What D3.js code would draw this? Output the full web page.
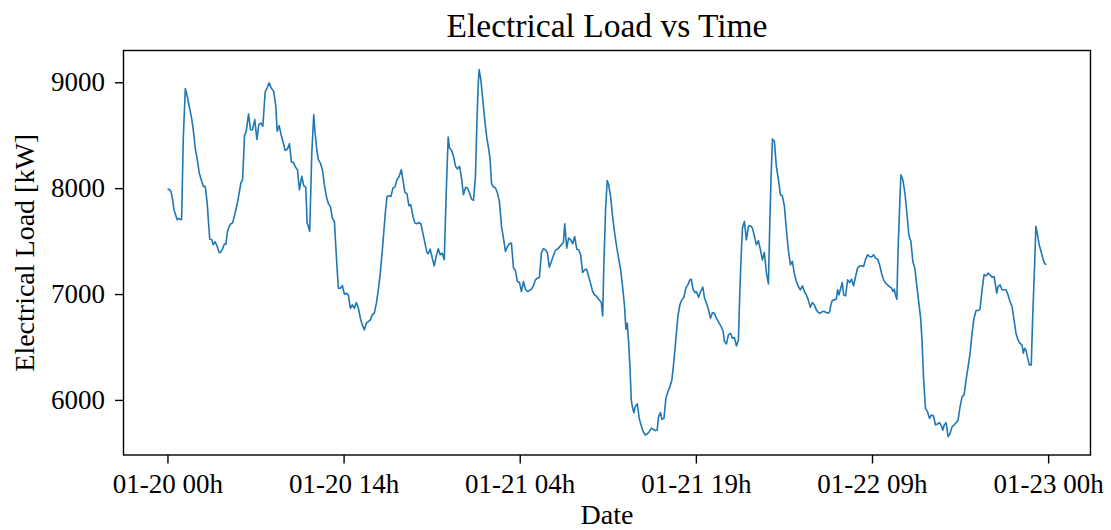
<!DOCTYPE html>
<html>
<head>
<meta charset="utf-8">
<script src="https://cdn.jsdelivr.net/npm/d3@7"></script>
<style>
  html, body { margin: 0; padding: 0; background: #fff; }
  svg { display: block; }
  text { font-family: "Liberation Serif", "Times New Roman", serif; fill: #000; }
</style>
</head>
<body>
<svg id="chart" width="1111" height="530"></svg>
<script>
// ---- data (hours after 01-20 00h, electrical load in kW) ----
const hoursFromStart = [
  0.00,0.15,0.29,0.42,0.53,0.69,0.80,0.94,1.07,1.16,1.29,1.46,1.62,1.78,1.97,2.11,2.27,2.44,2.60,2.76,
  2.93,3.09,3.25,3.36,3.46,3.63,3.74,3.90,4.07,4.23,4.34,4.50,4.64,4.78,4.91,5.05,5.18,5.32,5.43,5.59,
  5.73,5.86,6.00,6.14,6.24,6.30,6.44,6.63,6.79,6.95,7.14,7.31,7.47,7.63,7.80,7.99,8.15,8.31,8.48,
  8.69,8.86,8.97,9.13,9.29,9.46,9.62,9.81,9.97,10.14,10.30,10.46,10.63,10.79,10.98,11.14,11.31,11.42,11.52,11.63,
  11.80,11.96,12.07,12.21,12.34,12.50,12.67,12.83,12.99,13.16,13.32,13.48,13.65,13.81,13.97,14.14,14.30,14.46,14.63,14.79,
  14.95,15.12,15.28,15.44,15.61,15.77,15.93,16.10,16.26,16.42,16.59,16.75,16.91,17.08,17.24,17.40,17.57,
  17.67,17.81,17.95,18.11,18.27,18.44,18.60,18.76,18.92,19.12,19.25,19.41,19.58,19.74,19.90,20.07,20.23,20.39,20.56,20.72,
  20.88,21.05,21.21,21.32,21.48,21.65,21.81,21.97,22.14,22.30,22.46,22.63,22.79,22.95,23.06,23.22,23.39,23.55,23.71,23.88,
  24.04,24.20,24.37,24.53,24.69,24.86,25.02,25.18,25.29,25.40,25.48,25.62,25.78,25.95,26.11,26.27,26.38,26.49,26.65,26.82,
  26.98,27.14,27.31,27.47,27.63,27.80,27.96,28.12,28.29,28.45,28.61,28.78,28.94,29.10,29.27,29.43,29.59,29.75,29.92,30.08,
  30.24,30.41,30.57,30.73,30.90,31.06,31.22,31.39,31.55,31.71,31.88,32.04,32.20,32.37,32.48,32.64,32.80,32.97,33.13,33.29,
  33.46,33.62,33.78,33.94,34.11,34.27,34.43,34.60,34.76,34.92,35.09,35.25,35.36,35.47,35.58,35.69,35.82,
  35.95,36.07,36.23,36.39,36.56,36.72,36.88,37.05,37.21,37.37,37.48,37.59,37.70,37.81,37.92,38.03,38.14,38.24,38.41,38.57,
  38.74,38.90,39.06,39.22,39.39,39.55,39.71,39.88,40.04,40.15,40.31,40.42,40.59,40.75,40.91,41.08,41.24,41.40,41.56,41.73,
  41.89,42.05,42.22,42.38,42.54,42.71,42.82,42.98,43.14,43.25,43.42,43.58,43.77,43.91,44.07,44.23,44.39,44.56,44.72,44.88,45.10,
  45.27,45.43,45.54,45.70,45.86,46.03,46.19,46.35,46.52,46.68,46.79,46.90,47.01,47.17,47.33,47.50,47.66,47.82,47.99,48.15,
  48.31,48.48,48.64,48.80,48.97,49.13,49.24,49.35,49.46,49.62,49.78,49.95,50.11,50.27,50.44,50.60,50.76,50.93,51.09,51.25,
  51.42,51.58,51.74,51.91,52.07,52.23,52.39,52.56,52.72,52.88,53.05,53.21,53.37,53.54,53.70,53.86,54.03,54.14,54.24,
  54.35,54.52,54.68,54.79,54.90,55.01,55.17,55.28,55.44,55.61,55.77,55.93,56.09,56.26,56.42,56.59,56.75,56.91,57.08,57.24,
  57.40,57.57,57.73,57.89,58.06,58.22,58.38,58.55,58.71,58.87,59.03,59.20,59.31,59.42,59.52,59.63,59.74,59.85,59.96,60.12,
  60.29,60.45,60.61,60.78,60.94,61.10,61.27,61.43,61.59,61.70,61.81,61.97,62.14,62.30,62.46,62.63,62.79,62.95,63.12,63.28,63.39,
  63.50,63.66,63.82,63.99,64.15,64.31,64.48,64.64,64.80,64.97,65.13,65.29,65.46,65.62,65.78,65.94,66.11,66.27,66.43,66.60,
  66.76,66.92,67.09,67.25,67.41,67.58,67.69,67.80,67.91,68.07,68.23,68.40,68.56,68.72,68.88,69.05,69.21,69.37,69.54,69.70,
  69.86,69.97,70.08,70.19,70.30,70.46,70.62,70.73,70.89,71.00,71.11,71.27,71.44,71.60,71.71,71.87
];
const loadKW = [
  7990,7990,7969,7891,7796,7739,7702,7714,7702,7708,8458,8940,8868,8773,8663,8552,8379,8269,8143,8080,
  8017,8017,7859,7670,7519,7512,7465,7494,7449,7393,7393,7424,7471,7471,7591,7639,7664,7670,7717,7796,
  7865,7954,8048,8080,8332,8496,8537,8701,8552,8552,8647,8458,8600,8615,8584,8909,8946,8994,8946,
  8915,8773,8537,8590,8505,8433,8357,8370,8420,8244,8244,8200,8174,7985,8111,8023,8007,7670,7639,7591,
  8332,8694,8521,8363,8269,8237,8174,8032,7922,7853,7828,7717,7686,7355,7055,7055,7081,6999,7008,6992,
  6866,6898,6866,6920,6866,6772,6709,6662,6725,6740,6756,6803,6819,6914,7040,7197,7418,
  7560,7765,7922,7928,7922,8001,8010,8080,8105,8174,8080,7960,7947,7834,7843,7733,7670,7664,7676,7664,
  7575,7481,7393,7380,7424,7339,7267,7355,7427,7371,7386,7323,7954,8483,8379,8357,8300,8206,8181,8206,
  8095,7938,8007,8001,7954,7897,7884,8111,8584,8962,9120,9025,8836,8631,8474,8363,8269,8048,8010,8001,
  7954,7875,7639,7528,7402,7449,7475,7481,7245,7222,7118,7109,7024,7118,7046,7024,7033,7046,7078,7134,
  7150,7159,7386,7427,7418,7393,7254,7308,7361,7412,7424,7443,7465,7487,7664,7434,7528,7512,7475,7544,
  7424,7418,7371,7204,7229,7235,7166,7096,7024,6992,6977,6951,6936,6920,6794,7323,7796,
  8073,8032,7922,7733,7575,7449,7339,7229,7071,6882,6668,6725,6551,6315,5999,5921,5880,5937,5962,5826,
  5754,5700,5669,5678,5700,5732,5723,5710,5716,5842,5880,5817,5826,6016,6078,6126,6189,6362,6567,6788,
  6898,6945,6970,7055,7087,7134,7141,7040,7014,7021,6970,7024,7065,6961,6914,6851,6772,6825,6819,6772,6725,
  6693,6646,6551,6529,6614,6630,6583,6589,6510,6567,7008,7355,7623,7686,7512,7639,7645,7623,7544,7465,
  7506,7418,7323,7393,7197,7096,7639,8111,8464,8442,8206,8080,7938,7928,7828,7607,7418,7276,7308,7197,
  7118,7071,7040,7078,7024,6992,6945,6876,6920,6898,6851,6825,6819,6835,6835,6825,6819,6835,6900,
  6939,6945,6951,7040,6992,7040,7109,6992,6983,7134,7109,7141,7078,7166,7245,7267,7267,7260,7330,7371,
  7355,7349,7371,7339,7330,7276,7197,7134,7103,7087,7071,7055,7024,7046,6992,6951,7449,7796,8127,8080,
  7954,7765,7560,7497,7308,7245,7071,6914,6756,6535,6220,5921,5889,5826,5858,5848,5763,5773,5785,5754,5713,
  5763,5785,5653,5685,5748,5763,5785,5811,5937,6031,6047,6189,6315,6441,6630,6772,6844,6844,6857,7040,
  7182,7172,7197,7182,7159,7166,7087,7008,7071,7087,7040,7040,7040,6992,6929,6882,6756,6630,6567,6535,
  6520,6441,6488,6472,6409,6331,6331,6756,7260,7639,7575,7465,7393,7323,7286,7279
];
const xTickHours = [0, 14.4, 28.8, 43.2, 57.6, 72];
const xTickLabels = ["01-20 00h", "01-20 14h", "01-21 04h", "01-21 19h", "01-22 09h", "01-23 00h"];
const yTicks = [6000, 7000, 8000, 9000];
const titleText = "Electrical Load vs Time";
const xLabelText = "Date";
const yLabelText = "Electrical Load [kW]";

// ---- layout ----
const W = 1111, H = 530;
const plot = { left: 123.5, right: 1090.5, top: 50.5, bottom: 455 };
const start = Date.UTC(2020, 0, 20, 0, 0, 0);
const toDate = h => new Date(start + h * 3600 * 1000);

const data = hoursFromStart.map((h, i) => ({ t: toDate(h), v: loadKW[i] }));

const hMin = d3.min(hoursFromStart), hMax = d3.max(hoursFromStart);
const hPad = (hMax - hMin) * 0.05;
const x = d3.scaleUtc()
  .domain([toDate(hMin - hPad), toDate(hMax + hPad)])
  .range([plot.left, plot.right]);
const y = d3.scaleLinear()
  .domain([5480, 9300])
  .range([plot.bottom, plot.top]);

const svg = d3.select("#chart");

// line
const line = d3.line().x(d => x(d.t)).y(d => y(d.v));
svg.append("path")
  .datum(data)
  .attr("fill", "none")
  .attr("stroke", "#1f77b4")
  .attr("stroke-width", 1.6)
  .attr("stroke-linejoin", "round")
  .attr("d", line);

// axes
const xAxis = d3.axisBottom(x)
  .tickValues(xTickHours.map(toDate))
  .tickFormat((d, i) => xTickLabels[i])
  .tickSize(8.5)
  .tickPadding(10);
const gx = svg.append("g")
  .attr("transform", `translate(0,${plot.bottom})`)
  .call(xAxis);
gx.select(".domain").remove();
gx.selectAll("line").attr("stroke", "#000").attr("stroke-width", 1.4);
gx.selectAll("text").attr("font-size", 27).style("font-family", "'Liberation Serif', serif");

const yAxis = d3.axisLeft(y)
  .tickValues(yTicks)
  .tickFormat(d3.format("d"))
  .tickSize(8.5)
  .tickPadding(10);
const gy = svg.append("g")
  .attr("transform", `translate(${plot.left},0)`)
  .call(yAxis);
gy.select(".domain").remove();
gy.selectAll("line").attr("stroke", "#000").attr("stroke-width", 1.4);
gy.selectAll("text").attr("font-size", 27).style("font-family", "'Liberation Serif', serif");

// frame
svg.append("rect")
  .attr("x", plot.left).attr("y", plot.top)
  .attr("width", plot.right - plot.left)
  .attr("height", plot.bottom - plot.top)
  .attr("fill", "none")
  .attr("stroke", "#000")
  .attr("stroke-width", 1.4);

// title & labels
svg.append("text")
  .attr("x", (plot.left + plot.right) / 2)
  .attr("y", 37)
  .attr("text-anchor", "middle")
  .attr("font-size", 33.5)
  .text(titleText);

svg.append("text")
  .attr("x", (plot.left + plot.right) / 2)
  .attr("y", 524)
  .attr("text-anchor", "middle")
  .attr("font-size", 28)
  .text(xLabelText);

svg.append("text")
  .attr("transform", `translate(34,${(plot.top + plot.bottom) / 2}) rotate(-90)`)
  .attr("text-anchor", "middle")
  .attr("font-size", 28)
  .text(yLabelText);
</script>
</body>
</html>
